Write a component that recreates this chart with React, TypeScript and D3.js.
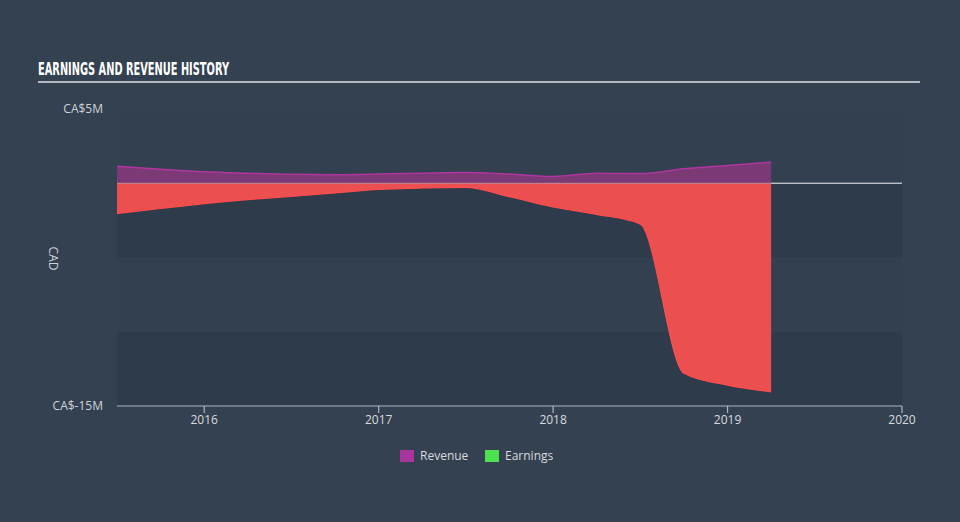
import React from "react";
import * as d3 from "d3";

const dates: number[] = [2015.5, 2015.75, 2016.0, 2016.25, 2016.5, 2016.75, 2017.0, 2017.25, 2017.5, 2017.75, 2018.0, 2018.25, 2018.5, 2018.75, 2019.0, 2019.25];
const revenue: number[] = [1.14, 0.95, 0.78, 0.68, 0.6, 0.58, 0.62, 0.68, 0.72, 0.62, 0.45, 0.68, 0.65, 0.98, 1.2, 1.42];
const earnings: number[] = [-2.04, -1.7, -1.37, -1.1, -0.88, -0.65, -0.42, -0.32, -0.28, -0.9, -1.6, -2.1, -2.75, -12.8, -13.6, -14.05];
const xTicks: number[] = [2016, 2017, 2018, 2019, 2020];
const yTickLabels: { v: number; label: string }[] = [
  { v: 5, label: "CA$5M" },
  { v: -15, label: "CA$-15M" },
];
const legendItems = [
  { name: "Revenue", color: "#a8359e" },
  { name: "Earnings", color: "#4fe04f" },
];

export default function App() {
  const W = 960, H = 522;
  const left = 117, right = 902, top = 109, bottom = 406;
  const x = d3.scaleLinear().domain([2015.5, 2020]).range([left, right]);
  const y = d3.scaleLinear().domain([-15, 5]).range([bottom, top]);
  const revArea = d3.area<number>().x((_, i) => x(dates[i])).y0(y(0)).y1((d) => y(d)).curve(d3.curveMonotoneX);
  const revLine = d3.line<number>().x((_, i) => x(dates[i])).y((d) => y(d)).curve(d3.curveMonotoneX);
  const earnArea = d3.area<number>().x((_, i) => x(dates[i])).y0(y(0)).y1((d) => y(d)).curve(d3.curveMonotoneX);
  const earnLine = d3.line<number>().x((_, i) => x(dates[i])).y((d) => y(d)).curve(d3.curveMonotoneX);
  const bands = [5, 0, -5, -10];
  const font = "'Open Sans', 'DejaVu Sans', sans-serif";
  return (
    <svg width={W} height={H} style={{ position: "absolute", left: 0, top: 0, display: "block" }}>
      <rect x={0} y={0} width={W} height={H} fill="#344151" />
      {bands.map((b, i) => (
        <rect key={b} x={left} y={y(b)} width={right - left} height={y(b - 5) - y(b)} fill={i % 2 === 1 ? "#2e3b4b" : "#334050"} />
      ))}
      <text x={38} y={75} fill="#ffffff" fontFamily="'DejaVu Sans Condensed', 'DejaVu Sans', sans-serif" fontWeight="bold" fontSize={17} textLength={191} lengthAdjust="spacingAndGlyphs">EARNINGS AND REVENUE HISTORY</text>
      <line x1={38} x2={920} y1={82} y2={82} stroke="#b4b9c0" strokeWidth={2} />
      <path d={revArea(revenue) || ""} fill="#7b3a75" />
      <path d={revLine(revenue) || ""} fill="none" stroke="#b0359f" strokeWidth={1.5} />
      <path d={earnArea(earnings) || ""} fill="#ec4f50" />
      <path d={earnLine(earnings) || ""} fill="none" stroke="#ff4c4c" strokeWidth={1.2} />
      <line x1={left} x2={right} y1={y(0)} y2={y(0)} stroke="#e0e3e6" strokeWidth={1.2} strokeOpacity={0.45} />
      <line x1={x(dates[dates.length - 1])} x2={right} y1={y(0)} y2={y(0)} stroke="#d7dade" strokeWidth={1.2} />
      {yTickLabels.map((t) => (
        <text key={t.label} x={103} y={y(t.v)} dy="0.35em" textAnchor="end" fill="#cfd3d8" fontFamily={font} fontSize={12}>{t.label}</text>
      ))}
      <text transform={`translate(49,${(top + bottom) / 2 + 1}) rotate(90)`} textAnchor="middle" fill="#cfd3d8" fontFamily={font} fontSize={12}>CAD</text>
      <line x1={left} x2={right} y1={bottom} y2={bottom} stroke="#aeb6c0" strokeWidth={1.2} />
      {xTicks.map((t) => (
        <g key={t}>
          <line x1={x(t)} x2={x(t)} y1={bottom} y2={bottom + 7} stroke="#aeb6c0" strokeWidth={1.2} />
          <text x={x(t)} y={424} textAnchor="middle" fill="#d8dbdf" fontFamily={font} fontSize={12}>{t}</text>
        </g>
      ))}
      {legendItems.map((it, i) => {
        const lx = 400 + i * 85;
        return (
          <g key={it.name}>
            <rect x={lx} y={450} width={14} height={12} fill={it.color} />
            <text x={lx + 20} y={456} dy="0.35em" fill="#d8dbdf" fontFamily={font} fontSize={12}>{it.name}</text>
          </g>
        );
      })}
    </svg>
  );
}
